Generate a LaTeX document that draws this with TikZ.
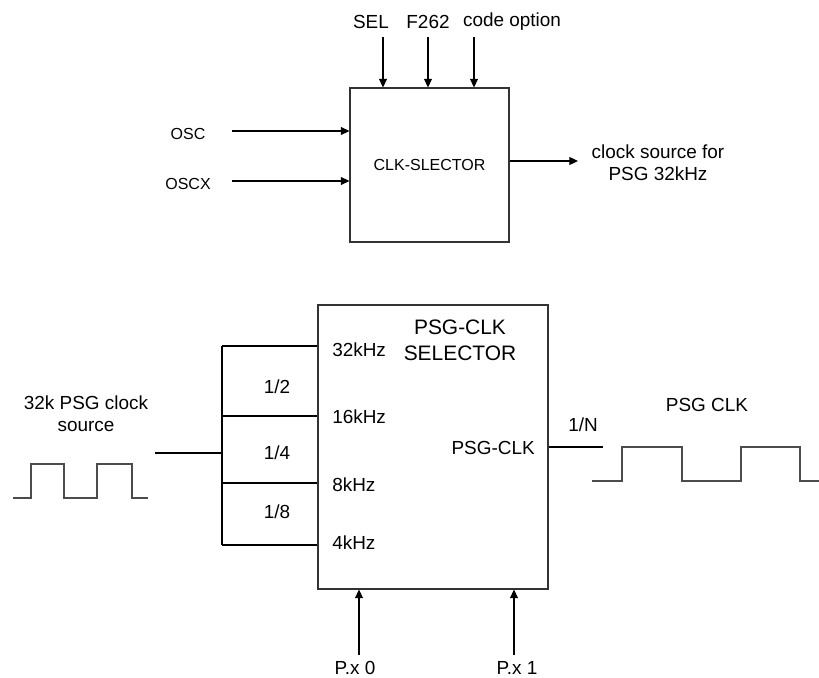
\documentclass[tikz,border=0pt]{standalone}
\usepackage{fontspec}
\setmainfont{Liberation Sans}
\usetikzlibrary{arrows.meta, positioning, calc}
\tikzset{
  lbl/.style={font=\fontsize{14.2}{16.5}\selectfont, inner sep=0pt, align=center},
  lblsmall/.style={font=\fontsize{12}{14}\selectfont, inner sep=0pt},
  lbltitle/.style={font=\fontsize{15.7}{19.5}\selectfont, inner sep=0pt, align=center},
  blk/.style={draw=black!80, line width=0.8pt, inner sep=0pt},
  sig/.style={-{Triangle[length=6.5pt, width=6pt]}, line width=0.8pt},
  wire/.style={line width=0.8pt},
  wave/.style={line width=0.8pt, draw=black!70},
}

\begin{document}
\begin{tikzpicture}[x=0.75pt, y=-0.75pt]
  \useasboundingbox (0,0) rectangle (819,678);
  % Top: clock source selector
  \node[blk, lblsmall, minimum width=119.25pt, minimum height=115.5pt] (clksel) at (429.5,165) {CLK-SLECTOR};
  \foreach \n/\x/\lx/\t in {sel/383/371/SEL, fsel/428/428/F262, opt/474/512/code option} {
    \node[lbl] (\n) at (\lx,22) {\t};
    \coordinate (\n top) at (\x,37);
    \draw[sig] (\n top) -- (\n top |- clksel.north);
  }
  \foreach \n/\y/\t in {osc/131/OSC, oscx/181/OSCX} {
    \node[lblsmall] (\n) at (188,\y+3) {\t};
    \coordinate (\n in) at (232,\y);
    \draw[sig] (\n in) -- (\n in -| clksel.west);
  }
  \node[lbl] (clkout) at (658,163) {clock source for\\PSG 32kHz};
  \coordinate (clkend) at (578,161);
  \draw[sig] (clkend -| clksel.east) -- (clkend);
  % Bottom: PSG clock selector with dividers
  \node[blk, minimum width=172.5pt, minimum height=213pt] (psgsel) at (433,447) {};
  \node[lbltitle] (psgtitle) at (460,340) {PSG-CLK\\SELECTOR};
  \foreach \i/\y/\ly/\t in {1/346/350/32kHz, 2/416/417/16kHz, 3/483/485/8kHz, 4/545/543/4kHz} {
    \coordinate (tap\i) at (222,\y);
    \draw[wire] (tap\i) -- (tap\i -| psgsel.west);
    \node[lbl, anchor=west] (freq\i) at (332,\ly) {\t};
  }
  \draw[wire] (tap1) -- (tap4);
  \foreach \i/\y/\t in {1/387/1\slash 2, 2/453/1\slash 4, 3/512/1\slash 8}
    \node[lbl] (div\i) at (277,\y) {\t};
  \node[lbl] (srclbl) at (86,414) {32k PSG clock\\source};
  \coordinate (srcend) at (155,453);
  \draw[wire] (srcend) -- (srcend -| tap1);
  \draw[wave] (13,498) -- (31,498) -- (31,464) -- (64,464) -- (64,498) -- (97,498)
    -- (97,464) -- (132,464) -- (132,498) -- (148,498);
  % output side
  \node[lbl, anchor=east] (psgclk) at (535,448) {PSG-CLK};
  \coordinate (outend) at (603,447);
  \draw[wire] (outend -| psgsel.east) -- (outend);
  \node[lbl] (divn) at (583,425) {1/N};
  \node[lbl] (psgout) at (707,405) {PSG CLK};
  \draw[wave] (592,481) -- (622,481) -- (622,447) -- (682,447) -- (682,481) -- (741,481)
    -- (741,447) -- (800,447) -- (800,481) -- (819,481);
  % port select inputs
  \foreach \n/\x/\lx/\t in {px0/359/355/P.x 0, px1/514/517/P.x 1} {
    \coordinate (\n bot) at (\x,655);
    \draw[sig] (\n bot) -- (\n bot |- psgsel.south);
    \node[lbl, anchor=base] (\n) at (\lx,674) {\t};
  }
\end{tikzpicture}
\end{document}
